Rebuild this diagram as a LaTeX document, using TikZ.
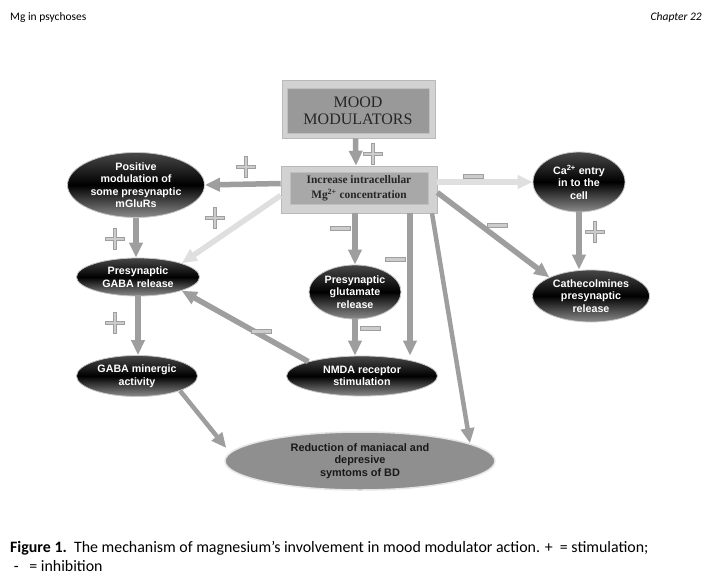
\documentclass[tikz,border=0pt]{standalone}
\usepackage{fontspec}
\setmainfont{Liberation Serif}
\setsansfont{Liberation Sans}
\newfontfamily\calibri{Carlito}
\usetikzlibrary{arrows.meta,shapes.geometric}
\tikzset{
  darkell/.style={ellipse, inner sep=0pt, top color=black!72, bottom color=black!45, middle color=black,
    draw=gray!45, line width=0.8pt, text=white, align=center,
    font=\sffamily\bfseries\fontsize{10.7}{12.5}\selectfont},
  outerbox/.style={rectangle, inner sep=0pt, fill=gray!35, draw=gray!55, line width=0.6pt},
  innerbox/.style={rectangle, inner sep=0pt, fill=gray!80, draw=gray!50, line width=0.6pt, align=center, text=black!85},
  garrow/.style={line width=5.5pt, draw=gray!76, -{Triangle[width=13pt,length=15pt]}},
  lgarrow/.style={line width=5.5pt, draw=gray!25, -{Triangle[width=13pt,length=15pt]}},
  pics/plussign/.style={code={
    \filldraw[fill=gray!40, draw=gray!75, line width=0.5pt]
      (-1.4,-10.5)--(1.4,-10.5)--(1.4,-1.4)--(9.5,-1.4)--(9.5,1.4)--(1.4,1.4)--(1.4,10.5)--(-1.4,10.5)
      --(-1.4,1.4)--(-9.5,1.4)--(-9.5,-1.4)--(-1.4,-1.4)--cycle;}},
  pics/minussign/.style={code={
    \filldraw[fill=gray!40, draw=gray!75, line width=0.5pt] (-10,-2) rectangle (10,2);}}
}
\begin{document}
\begin{tikzpicture}[x=1pt,y=-1pt]
\useasboundingbox[fill=white] (0,0) rectangle (713,579);

% header
\node[anchor=base west, inner sep=0pt, font=\calibri\fontsize{11.5}{12}\selectfont] (hdr) at (10,20) {Mg in psychoses};
\node[anchor=base east, inner sep=0pt, font=\calibri\itshape\fontsize{11.5}{12}\selectfont] (chap) at (702,20) {Chapter 22};

% boxes
\node[outerbox, minimum width=153pt, minimum height=58pt] (mood) at (358.5,109) {};
\node[innerbox, minimum width=142pt, minimum height=45pt, font=\rmfamily\fontsize{16}{17}\selectfont] (moodin) at (358,110.5) {MOOD\\MODULATORS};
\node[outerbox, minimum width=156pt, minimum height=47pt] (inc) at (359,189.5) {};
\node[innerbox, fill=gray!68, minimum width=138pt, minimum height=32pt, font=\rmfamily\bfseries\fontsize{11.4}{15}\selectfont] (incin) at (359,188) {Increase intracellular\\Mg\textsuperscript{2+} concentration};

% ellipses
\node[darkell, minimum width=137pt, minimum height=65pt] (mglu) at (136,185) {Positive\\modulation of\\some presynaptic\\mGluRs};
\node[darkell, minimum width=123pt, minimum height=38pt] (gaba) at (138,277) {Presynaptic\\GABA release};
\node[darkell, minimum width=121pt, minimum height=41pt] (minerg) at (137,376) {GABA minergic\\activity};
\node[darkell, minimum width=92pt, minimum height=54pt] (glu) at (355,292) {Presynaptic\\glutamate\\release};
\node[darkell, minimum width=151pt, minimum height=40pt] (nmda) at (362,376) {NMDA receptor\\stimulation};
\node[darkell, minimum width=92pt, minimum height=60pt] (ca) at (579,182) {Ca\textsuperscript{2+} entry\\in to the\\cell};
\node[darkell, minimum width=117pt, minimum height=52pt] (cath) at (591,296) {Cathecolmines\\presynaptic\\release};
\node[ellipse, inner sep=0pt, minimum width=270pt, minimum height=58pt, fill=gray!88, draw=gray!20, line width=1.5pt,
  align=center, text=black!90, font=\sffamily\bfseries\fontsize{10.9}{12.5}\selectfont] (red) at (360,461)
  {Reduction of maniacal and\\depresive\\symtoms of BD};

% connectors
\draw[garrow] ([xshift=-3pt]mood.south) -- ([xshift=-3pt]inc.north);
\draw[garrow] ([yshift=6pt]inc.west) -- (mglu.east);
\draw[lgarrow] ([yshift=-6pt]inc.west) -- (gaba.north east);
\draw[garrow] (mglu.south) -- (mglu.south |- gaba.north);
\draw[garrow] (gaba.south) -- (gaba.south |- minerg.north);
\draw[garrow] (nmda.north west) -- (gaba.south east);
\draw[garrow] ([xshift=-4pt]inc.south) -- (glu.north);
\draw[garrow] (glu.south) -- (glu.south |- nmda.north);
\draw[garrow] ([xshift=51pt]inc.south) -- ([xshift=48pt]nmda.north);
\draw[garrow, line width=4.5pt] ([xshift=73pt]inc.south) -- ([xshift=110pt,yshift=-12pt]red.north);
\draw[garrow, line width=4.5pt] (minerg.south east) -- ([xshift=2pt,yshift=13pt]red.west);
\draw[lgarrow] (inc.east |- ca.west) -- (ca.west);
\draw[garrow] (ca.south) -- (ca.south |- cath.north);
\draw[garrow] ([yshift=-3pt]inc.east) -- (cath.north west);

% signs
\pic at (373,154) {plussign};
\pic at (246,167) {plussign};
\pic at (215,218) {plussign};
\pic at (115,239) {plussign};
\pic at (115,323) {plussign};
\pic at (595,232) {plussign};
\pic at (261,331) {minussign};
\pic at (340,228) {minussign};
\pic at (395,259) {minussign};
\pic at (370,328) {minussign};
\pic at (473,176) {minussign};
\pic at (497,225) {minussign};

% caption
\node[anchor=base west, inner sep=0pt, align=left, font=\calibri\fontsize{15.9}{18.5}\selectfont] (cap) at (10,571)
  {\textbf{Figure 1.}\ \ The mechanism of magnesium’s involvement in mood modulator action. +\ \ = stimulation;\\
   \ -\ \ \ = inhibition};
\end{tikzpicture}
\end{document}
